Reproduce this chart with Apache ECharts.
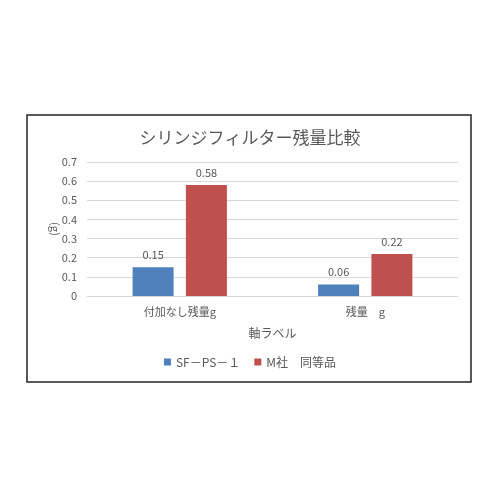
<!DOCTYPE html>
<html>
<head>
    <meta charset="utf-8" />
    <title>シリンジフィルター残量比較</title>
    <script src="https://cdn.jsdelivr.net/npm/echarts@6/dist/echarts.min.js"></script>
    <style>
        html, body { margin: 0; padding: 0; background: #fff; }
    </style>
</head>
<body>
    <div id="chart" style="width:500px;height:500px;"></div>
    <script type="text/javascript">
        var categories = ['付加なし残量g', '残量　g'];
        var seriesNames = ['SF－PS－１', 'M社　同等品'];
        var sfData = [0.15, 0.06];
        var mData = [0.58, 0.22];
        var yTicks = [0, 0.1, 0.2, 0.3, 0.4, 0.5, 0.6, 0.7];

        var font = '"Noto Sans CJK JP", "Noto Sans", sans-serif';
        var grey = '#595959';
        var chart = echarts.init(document.getElementById('chart'));
        var option = {
            backgroundColor: '#fff',
            textStyle: { fontFamily: font },
            animation: false,
            graphic: [{
                type: 'rect',
                shape: { x: 27, y: 115, width: 444, height: 267 },
                style: { fill: 'none', stroke: '#222', lineWidth: 1.5 },
                z: 0
            }],
            title: {
                text: 'シリンジフィルター残量比較',
                left: 'center',
                top: 124,
                textStyle: { fontSize: 17, fontWeight: 'normal', color: grey, fontFamily: font }
            },
            legend: {
                data: seriesNames,
                bottom: 127,
                left: 'center',
                icon: 'rect',
                itemWidth: 7,
                itemHeight: 7,
                itemGap: 14,
                textStyle: { fontSize: 12, color: grey, fontFamily: font }
            },
            grid: { left: 87, right: 42, top: 162, bottom: 204, containLabel: false },
            xAxis: {
                type: 'category',
                data: categories,
                name: '軸ラベル',
                nameLocation: 'middle',
                nameGap: 31,
                nameMoveOverlap: false,
                nameTextStyle: { fontSize: 12, color: grey },
                axisLine: { lineStyle: { color: '#D9D9D9' } },
                axisTick: { show: false },
                axisLabel: { fontSize: 11, color: grey, margin: 10 }
            },
            yAxis: {
                type: 'value',
                min: 0,
                max: yTicks[yTicks.length - 1],
                interval: 0.1,
                name: '(g)',
                nameLocation: 'middle',
                nameGap: 26,
                nameMoveOverlap: false,
                nameRotate: -90,
                nameTextStyle: { fontSize: 11, color: grey },
                axisLine: { show: false },
                axisTick: { show: false },
                splitLine: { lineStyle: { color: '#D9D9D9' } },
                axisLabel: {
                    fontSize: 11,
                    color: grey,
                    margin: 10,
                    formatter: function (v) { return String(Math.round(v * 10) / 10); }
                }
            },
            series: [{
                name: seriesNames[0],
                type: 'bar',
                data: sfData,
                barWidth: 41,
                barGap: '30%',
                itemStyle: { color: '#4F81BD' },
                label: { show: true, position: 'top', fontSize: 11, color: grey, distance: 7 }
            }, {
                name: seriesNames[1],
                type: 'bar',
                data: mData,
                barWidth: 41,
                barGap: '30%',
                itemStyle: { color: '#C0504D' },
                label: { show: true, position: 'top', fontSize: 11, color: grey, distance: 7 }
            }]
        };
        chart.setOption(option);
    </script>
</body>
</html>
